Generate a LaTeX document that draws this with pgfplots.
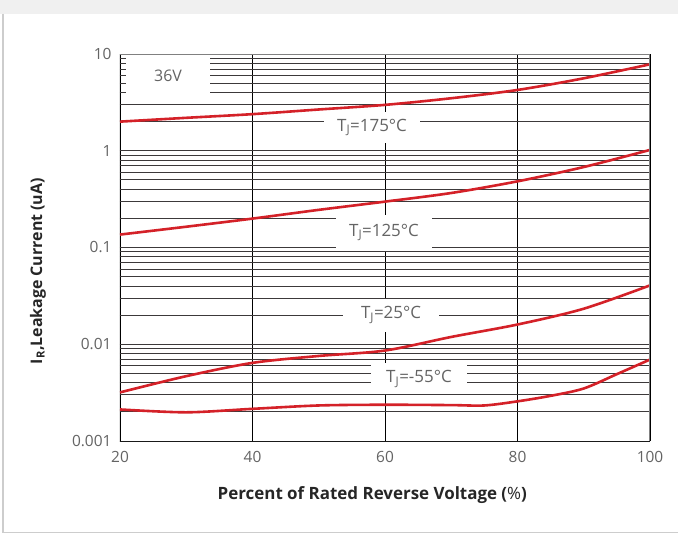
\documentclass[border=0pt]{standalone}
\usepackage{fontspec}
\setmainfont{Open Sans}
\usepackage{pgfplots}
\pgfplotsset{compat=1.18}
\definecolor{curve}{RGB}{212,33,40}
\definecolor{ticktext}{RGB}{100,100,100}
\definecolor{gridc}{RGB}{60,57,58}
\definecolor{framec}{RGB}{205,205,205}
\definecolor{band}{RGB}{240,240,240}

\begin{document}
\begin{tikzpicture}
\useasboundingbox (-120bp,-93bp) rectangle (558bp,441bp);
\fill[white] (-120bp,-93bp) rectangle (558bp,441bp);
\fill[band] (-120bp,427bp) rectangle (558bp,441bp);
\draw[framec,line width=1.5bp] (-117bp,427bp) -- (-117bp,-91.5bp) -- (558bp,-91.5bp);
\begin{axis}[
  scale only axis, width=530bp, height=387bp,
  xmin=20, xmax=100,
  ymode=log, ymin=0.001, ymax=10,
  xtick={20,40,60,80,100},
  ytick={0.001,0.01,0.1,1,10},
  yticklabels={0.001,0.01,0.1,1,10},
  major tick length=0pt, minor tick length=0pt,
  xmajorgrids=true, ymajorgrids=true, yminorgrids=true,
  major grid style={gridc, line width=0.9bp},
  minor grid style={gridc, line width=0.9bp},
  x grid style={black, line width=0.9bp},
  axis line style={draw=none},
  /pgf/number format/assume math mode=true,
  ticklabel style={font=\fontsize{15.5}{18}\selectfont, text=ticktext},
  xticklabel style={yshift=-7bp},
  yticklabel style={xshift=-5bp},
  xlabel={\textbf{Percent of Rated Reverse Voltage (}\%\textbf{)}},
  xlabel style={at={(axis description cs:0.4760,-0.1395)}, anchor=center,
    font=\fontsize{17}{19}\selectfont, text=black!85},
  ylabel={\textbf{I\textsubscript{R},Leakage Current (uA)}},
  ylabel style={at={(axis description cs:-0.1547,0.439)}, anchor=center,
    font=\fontsize{16}{18}\selectfont, text=black!85},
]
\tikzset{lbl/.style={fill=white, inner sep=0pt, minimum width=96bp, minimum height=31bp,
  text=ticktext, font=\fontsize{17}{19}\selectfont}}
\node[lbl, minimum width=84bp, minimum height=38bp, font=\fontsize{16}{18}\selectfont] at (axis cs:27.25,5.925) {36V};
\node[lbl] at (axis cs:58.04,1.739) {T\textsubscript{J}=175°C};
\node[lbl, minimum height=36bp] at (axis cs:59.85,0.1429) {T\textsubscript{J}=125°C};
\node[lbl, minimum height=33bp] at (axis cs:60.91,0.02005) {T\textsubscript{J}=25°C};
\node[lbl] at (axis cs:65.13,0.004375) {T\textsubscript{J}=-55°C};

\addplot[curve, line width=2.6bp, smooth] coordinates {
  (20,2.00)(30,2.19)(40,2.39)(50,2.67)(60,2.98)(70,3.49)(80,4.25)(90,5.61)(100,7.83)
};
\addplot[curve, line width=2.6bp, smooth] coordinates {
  (20,0.136)(30,0.164)(40,0.199)(50,0.245)(60,0.298)(70,0.366)(80,0.483)(90,0.679)(100,1.02)
};
\addplot[curve, line width=2.6bp, smooth] coordinates {
  (20,0.00318)(30,0.00468)(40,0.00642)(50,0.00757)(60,0.00861)(70,0.0119)(80,0.0160)(90,0.0233)(100,0.0406)
};
\addplot[curve, line width=2.6bp, smooth] coordinates {
  (20,0.00212)(30,0.00198)(40,0.00215)(50,0.00233)(60,0.00237)(70,0.00235)(75,0.00233)(80,0.00257)(85,0.00293)(90,0.00349)(95,0.00491)(100,0.00695)
};

\draw[gray, line width=1.4bp] (rel axis cs:0,1) -- (rel axis cs:1,1) -- (rel axis cs:1,0);
\draw[black!90, line width=1bp] (rel axis cs:0,1) -- (rel axis cs:0,0) -- (rel axis cs:1,0);
\end{axis}
\end{tikzpicture}
\end{document}
